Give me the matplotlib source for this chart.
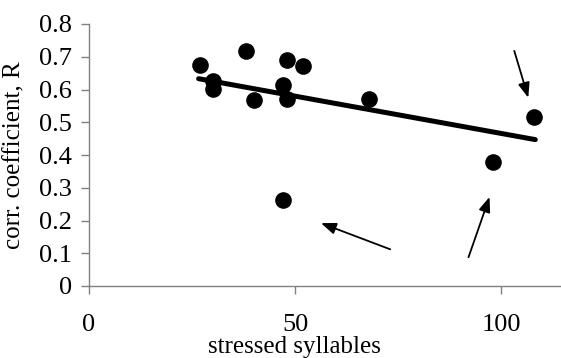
import matplotlib
matplotlib.use("Agg")
import matplotlib.pyplot as plt

# data
syllables = [27, 30, 30, 38, 40, 47, 47, 48, 48, 52, 68, 98, 108]
corr_r = [0.675, 0.627, 0.603, 0.717, 0.567, 0.262, 0.615, 0.69, 0.572, 0.672, 0.571, 0.38, 0.516]

# trend line end points
trend_x = [26.6, 108.3]
trend_y = [0.633, 0.447]

# annotation arrows: (tail_x, tail_y, head_x, head_y)
arrows = [
    (103.2, 0.718, 106.6, 0.575),
    (73.1, 0.112, 56.3, 0.192),
    (92.1, 0.088, 97.2, 0.272),
]

x_ticks = [0, 50, 100]
y_ticks = [0, 0.1, 0.2, 0.3, 0.4, 0.5, 0.6, 0.7, 0.8]

plt.rcParams['font.family'] = ['Liberation Serif', 'DejaVu Serif']

fig = plt.figure(figsize=(5.61, 3.58), dpi=100)
ax = fig.add_axes([89 / 561, 1 - 286 / 358, (560 - 89) / 561, (286 - 24) / 358])

ax.plot(trend_x, trend_y, color='black', lw=3.6, solid_capstyle='round', zorder=2)
ax.scatter(syllables, corr_r, s=120, color='black', zorder=3)

for tx, ty, hx, hy in arrows:
    ax.annotate('', xy=(hx, hy), xytext=(tx, ty),
                arrowprops=dict(arrowstyle='-|>,head_length=0.9,head_width=0.35',
                                color='black', lw=1.3, shrinkA=0, shrinkB=0))

ax.set_xlim(0, 114.3)
ax.set_ylim(0, 0.8)
ax.set_xticks(x_ticks)
ax.set_yticks(y_ticks)
ax.set_yticklabels(['0', '0.1', '0.2', '0.3', '0.4', '0.5', '0.6', '0.7', '0.8'])

for side in ['top', 'right']:
    ax.spines[side].set_visible(False)
for side in ['left', 'bottom']:
    ax.spines[side].set_color('#808080')
    ax.spines[side].set_linewidth(1.0)

ax.tick_params(axis='both', colors='#808080', labelcolor='black', labelsize=19,
               length=6, width=1.0, direction='out')
ax.tick_params(axis='x', pad=14)
ax.tick_params(axis='y', pad=6)

ax.set_xlabel('stressed syllables', fontsize=18)
ax.set_ylabel('corr. coefficient, R', fontsize=18)
ax.xaxis.set_label_coords((294 - 89) / 471, -50 / 262)
ax.yaxis.set_label_coords(-(89 - 25) / 471, 0.5)

fig.savefig('out.png', dpi=100)
